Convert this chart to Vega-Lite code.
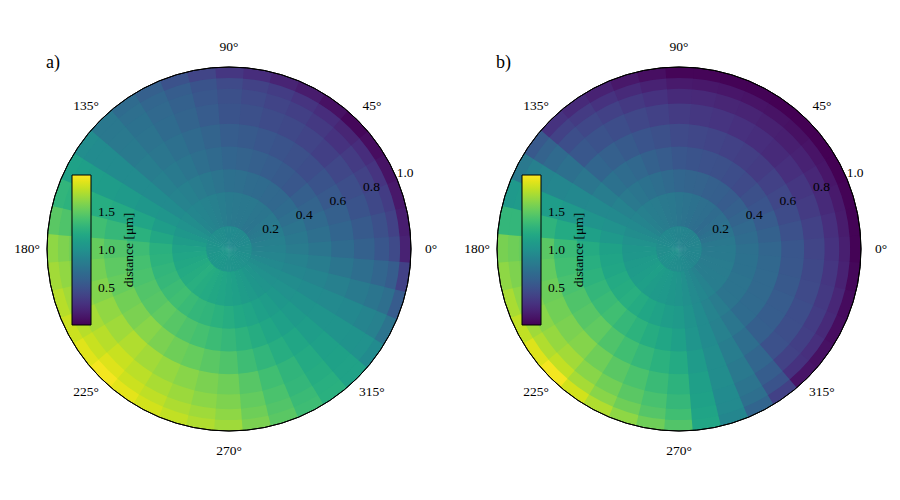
{
"$schema": "https://vega.github.io/schema/vega-lite/v6.json",
"padding": {"left": 9, "top": 9, "right": 0, "bottom": 0},
"background": "white",
"spacing": 10,
"bounds": "flush",
"config": {"view": {"stroke": null}, "font": "Liberation Serif"},
"datasets": {
"secs": [{"t":0,"t0":-4.7,"t1":4.7},{"t":9,"t0":4.3,"t1":13.7},{"t":18,"t0":13.3,"t1":22.7},{"t":27,"t0":22.3,"t1":31.7},{"t":36,"t0":31.3,"t1":40.7},{"t":45,"t0":40.3,"t1":49.7},{"t":54,"t0":49.3,"t1":58.7},{"t":63,"t0":58.3,"t1":67.7},{"t":72,"t0":67.3,"t1":76.7},{"t":81,"t0":76.3,"t1":85.7},{"t":90,"t0":85.3,"t1":94.7},{"t":99,"t0":94.3,"t1":103.7},{"t":108,"t0":103.3,"t1":112.7},{"t":117,"t0":112.3,"t1":121.7},{"t":126,"t0":121.3,"t1":130.7},{"t":135,"t0":130.3,"t1":139.7},{"t":144,"t0":139.3,"t1":148.7},{"t":153,"t0":148.3,"t1":157.7},{"t":162,"t0":157.3,"t1":166.7},{"t":171,"t0":166.3,"t1":175.7},{"t":180,"t0":175.3,"t1":184.7},{"t":189,"t0":184.3,"t1":193.7},{"t":198,"t0":193.3,"t1":202.7},{"t":207,"t0":202.3,"t1":211.7},{"t":216,"t0":211.3,"t1":220.7},{"t":225,"t0":220.3,"t1":229.7},{"t":234,"t0":229.3,"t1":238.7},{"t":243,"t0":238.3,"t1":247.7},{"t":252,"t0":247.3,"t1":256.7},{"t":261,"t0":256.3,"t1":265.7},{"t":270,"t0":265.3,"t1":274.7},{"t":279,"t0":274.3,"t1":283.7},{"t":288,"t0":283.3,"t1":292.7},{"t":297,"t0":292.3,"t1":301.7},{"t":306,"t0":301.3,"t1":310.7},{"t":315,"t0":310.3,"t1":319.7},{"t":324,"t0":319.3,"t1":328.7},{"t":333,"t0":328.3,"t1":337.7},{"t":342,"t0":337.3,"t1":346.7},{"t":351,"t0":346.3,"t1":355.7}],
"rings": [{"k":1,"r0":0,"r1":0.129},{"k":2,"r0":0.125,"r1":0.3165},{"k":3,"r0":0.3125,"r1":0.4415},{"k":4,"r0":0.4375,"r1":0.5665},{"k":5,"r0":0.5625,"r1":0.6915},{"k":6,"r0":0.6875,"r1":0.804},{"k":7,"r0":0.8,"r1":0.884},{"k":8,"r0":0.88,"r1":0.944},{"k":9,"r0":0.94,"r1":1.0}],
"angs": [{"a":0,"lab":"0°"},{"a":45,"lab":"45°"},{"a":90,"lab":"90°"},{"a":135,"lab":"135°"},{"a":180,"lab":"180°"},{"a":225,"lab":"225°"},{"a":270,"lab":"270°"},{"a":315,"lab":"315°"}],
"rads": [{"a":22.5,"rv":0.2,"lab":"0.2"},{"a":22.5,"rv":0.4,"lab":"0.4"},{"a":22.5,"rv":0.6,"lab":"0.6"},{"a":22.5,"rv":0.8,"lab":"0.8"},{"a":22.5,"rv":1.0,"lab":"1.0"}],
"ring1": [{"a0":0,"a1":360}],
"cells": [
{"p":"a","t":0,"k":1,"v":0.97},{"p":"a","t":0,"k":2,"v":0.88},{"p":"a","t":0,"k":3,"v":0.83},{"p":"a","t":0,"k":4,"v":0.78},{"p":"a","t":0,"k":5,"v":0.70},{"p":"a","t":0,"k":6,"v":0.62},{"p":"a","t":0,"k":7,"v":0.54},{"p":"a","t":0,"k":8,"v":0.45},{"p":"a","t":0,"k":9,"v":0.20},
{"p":"a","t":9,"k":1,"v":0.97},{"p":"a","t":9,"k":2,"v":0.86},{"p":"a","t":9,"k":3,"v":0.80},{"p":"a","t":9,"k":4,"v":0.73},{"p":"a","t":9,"k":5,"v":0.65},{"p":"a","t":9,"k":6,"v":0.57},{"p":"a","t":9,"k":7,"v":0.49},{"p":"a","t":9,"k":8,"v":0.40},{"p":"a","t":9,"k":9,"v":0.17},
{"p":"a","t":18,"k":1,"v":0.96},{"p":"a","t":18,"k":2,"v":0.84},{"p":"a","t":18,"k":3,"v":0.77},{"p":"a","t":18,"k":4,"v":0.69},{"p":"a","t":18,"k":5,"v":0.61},{"p":"a","t":18,"k":6,"v":0.52},{"p":"a","t":18,"k":7,"v":0.44},{"p":"a","t":18,"k":8,"v":0.36},{"p":"a","t":18,"k":9,"v":0.14},
{"p":"a","t":27,"k":1,"v":0.96},{"p":"a","t":27,"k":2,"v":0.82},{"p":"a","t":27,"k":3,"v":0.73},{"p":"a","t":27,"k":4,"v":0.64},{"p":"a","t":27,"k":5,"v":0.56},{"p":"a","t":27,"k":6,"v":0.48},{"p":"a","t":27,"k":7,"v":0.40},{"p":"a","t":27,"k":8,"v":0.31},{"p":"a","t":27,"k":9,"v":0.11},
{"p":"a","t":36,"k":1,"v":0.95},{"p":"a","t":36,"k":2,"v":0.80},{"p":"a","t":36,"k":3,"v":0.70},{"p":"a","t":36,"k":4,"v":0.60},{"p":"a","t":36,"k":5,"v":0.52},{"p":"a","t":36,"k":6,"v":0.43},{"p":"a","t":36,"k":7,"v":0.35},{"p":"a","t":36,"k":8,"v":0.27},{"p":"a","t":36,"k":9,"v":0.08},
{"p":"a","t":45,"k":1,"v":0.95},{"p":"a","t":45,"k":2,"v":0.78},{"p":"a","t":45,"k":3,"v":0.67},{"p":"a","t":45,"k":4,"v":0.55},{"p":"a","t":45,"k":5,"v":0.47},{"p":"a","t":45,"k":6,"v":0.38},{"p":"a","t":45,"k":7,"v":0.30},{"p":"a","t":45,"k":8,"v":0.22},{"p":"a","t":45,"k":9,"v":0.05},
{"p":"a","t":54,"k":1,"v":0.95},{"p":"a","t":54,"k":2,"v":0.79},{"p":"a","t":54,"k":3,"v":0.68},{"p":"a","t":54,"k":4,"v":0.57},{"p":"a","t":54,"k":5,"v":0.49},{"p":"a","t":54,"k":6,"v":0.41},{"p":"a","t":54,"k":7,"v":0.34},{"p":"a","t":54,"k":8,"v":0.27},{"p":"a","t":54,"k":9,"v":0.10},
{"p":"a","t":63,"k":1,"v":0.95},{"p":"a","t":63,"k":2,"v":0.80},{"p":"a","t":63,"k":3,"v":0.70},{"p":"a","t":63,"k":4,"v":0.59},{"p":"a","t":63,"k":5,"v":0.52},{"p":"a","t":63,"k":6,"v":0.44},{"p":"a","t":63,"k":7,"v":0.38},{"p":"a","t":63,"k":8,"v":0.31},{"p":"a","t":63,"k":9,"v":0.16},
{"p":"a","t":72,"k":1,"v":0.96},{"p":"a","t":72,"k":2,"v":0.80},{"p":"a","t":72,"k":3,"v":0.71},{"p":"a","t":72,"k":4,"v":0.61},{"p":"a","t":72,"k":5,"v":0.54},{"p":"a","t":72,"k":6,"v":0.46},{"p":"a","t":72,"k":7,"v":0.41},{"p":"a","t":72,"k":8,"v":0.36},{"p":"a","t":72,"k":9,"v":0.21},
{"p":"a","t":81,"k":1,"v":0.96},{"p":"a","t":81,"k":2,"v":0.81},{"p":"a","t":81,"k":3,"v":0.73},{"p":"a","t":81,"k":4,"v":0.63},{"p":"a","t":81,"k":5,"v":0.57},{"p":"a","t":81,"k":6,"v":0.49},{"p":"a","t":81,"k":7,"v":0.45},{"p":"a","t":81,"k":8,"v":0.40},{"p":"a","t":81,"k":9,"v":0.27},
{"p":"a","t":90,"k":1,"v":0.96},{"p":"a","t":90,"k":2,"v":0.82},{"p":"a","t":90,"k":3,"v":0.74},{"p":"a","t":90,"k":4,"v":0.65},{"p":"a","t":90,"k":5,"v":0.59},{"p":"a","t":90,"k":6,"v":0.52},{"p":"a","t":90,"k":7,"v":0.49},{"p":"a","t":90,"k":8,"v":0.45},{"p":"a","t":90,"k":9,"v":0.32},
{"p":"a","t":99,"k":1,"v":0.96},{"p":"a","t":99,"k":2,"v":0.84},{"p":"a","t":99,"k":3,"v":0.77},{"p":"a","t":99,"k":4,"v":0.69},{"p":"a","t":99,"k":5,"v":0.64},{"p":"a","t":99,"k":6,"v":0.58},{"p":"a","t":99,"k":7,"v":0.55},{"p":"a","t":99,"k":8,"v":0.52},{"p":"a","t":99,"k":9,"v":0.42},
{"p":"a","t":108,"k":1,"v":0.97},{"p":"a","t":108,"k":2,"v":0.86},{"p":"a","t":108,"k":3,"v":0.80},{"p":"a","t":108,"k":4,"v":0.73},{"p":"a","t":108,"k":5,"v":0.69},{"p":"a","t":108,"k":6,"v":0.64},{"p":"a","t":108,"k":7,"v":0.62},{"p":"a","t":108,"k":8,"v":0.59},{"p":"a","t":108,"k":9,"v":0.51},
{"p":"a","t":117,"k":1,"v":0.97},{"p":"a","t":117,"k":2,"v":0.88},{"p":"a","t":117,"k":3,"v":0.83},{"p":"a","t":117,"k":4,"v":0.78},{"p":"a","t":117,"k":5,"v":0.74},{"p":"a","t":117,"k":6,"v":0.70},{"p":"a","t":117,"k":7,"v":0.68},{"p":"a","t":117,"k":8,"v":0.66},{"p":"a","t":117,"k":9,"v":0.61},
{"p":"a","t":126,"k":1,"v":0.98},{"p":"a","t":126,"k":2,"v":0.90},{"p":"a","t":126,"k":3,"v":0.86},{"p":"a","t":126,"k":4,"v":0.82},{"p":"a","t":126,"k":5,"v":0.79},{"p":"a","t":126,"k":6,"v":0.76},{"p":"a","t":126,"k":7,"v":0.75},{"p":"a","t":126,"k":8,"v":0.73},{"p":"a","t":126,"k":9,"v":0.70},
{"p":"a","t":135,"k":1,"v":0.98},{"p":"a","t":135,"k":2,"v":0.92},{"p":"a","t":135,"k":3,"v":0.89},{"p":"a","t":135,"k":4,"v":0.86},{"p":"a","t":135,"k":5,"v":0.84},{"p":"a","t":135,"k":6,"v":0.82},{"p":"a","t":135,"k":7,"v":0.81},{"p":"a","t":135,"k":8,"v":0.80},{"p":"a","t":135,"k":9,"v":0.80},
{"p":"a","t":144,"k":1,"v":0.99},{"p":"a","t":144,"k":2,"v":0.97},{"p":"a","t":144,"k":3,"v":0.96},{"p":"a","t":144,"k":4,"v":0.96},{"p":"a","t":144,"k":5,"v":0.96},{"p":"a","t":144,"k":6,"v":0.96},{"p":"a","t":144,"k":7,"v":0.96},{"p":"a","t":144,"k":8,"v":0.96},{"p":"a","t":144,"k":9,"v":0.97},
{"p":"a","t":153,"k":1,"v":1.00},{"p":"a","t":153,"k":2,"v":1.01},{"p":"a","t":153,"k":3,"v":1.04},{"p":"a","t":153,"k":4,"v":1.06},{"p":"a","t":153,"k":5,"v":1.08},{"p":"a","t":153,"k":6,"v":1.10},{"p":"a","t":153,"k":7,"v":1.11},{"p":"a","t":153,"k":8,"v":1.12},{"p":"a","t":153,"k":9,"v":1.14},
{"p":"a","t":162,"k":1,"v":1.02},{"p":"a","t":162,"k":2,"v":1.06},{"p":"a","t":162,"k":3,"v":1.11},{"p":"a","t":162,"k":4,"v":1.17},{"p":"a","t":162,"k":5,"v":1.21},{"p":"a","t":162,"k":6,"v":1.24},{"p":"a","t":162,"k":7,"v":1.26},{"p":"a","t":162,"k":8,"v":1.28},{"p":"a","t":162,"k":9,"v":1.31},
{"p":"a","t":171,"k":1,"v":1.03},{"p":"a","t":171,"k":2,"v":1.10},{"p":"a","t":171,"k":3,"v":1.19},{"p":"a","t":171,"k":4,"v":1.27},{"p":"a","t":171,"k":5,"v":1.33},{"p":"a","t":171,"k":6,"v":1.38},{"p":"a","t":171,"k":7,"v":1.41},{"p":"a","t":171,"k":8,"v":1.44},{"p":"a","t":171,"k":9,"v":1.48},
{"p":"a","t":180,"k":1,"v":1.04},{"p":"a","t":180,"k":2,"v":1.15},{"p":"a","t":180,"k":3,"v":1.26},{"p":"a","t":180,"k":4,"v":1.37},{"p":"a","t":180,"k":5,"v":1.45},{"p":"a","t":180,"k":6,"v":1.52},{"p":"a","t":180,"k":7,"v":1.56},{"p":"a","t":180,"k":8,"v":1.60},{"p":"a","t":180,"k":9,"v":1.65},
{"p":"a","t":189,"k":1,"v":1.04},{"p":"a","t":189,"k":2,"v":1.17},{"p":"a","t":189,"k":3,"v":1.28},{"p":"a","t":189,"k":4,"v":1.40},{"p":"a","t":189,"k":5,"v":1.49},{"p":"a","t":189,"k":6,"v":1.57},{"p":"a","t":189,"k":7,"v":1.61},{"p":"a","t":189,"k":8,"v":1.66},{"p":"a","t":189,"k":9,"v":1.71},
{"p":"a","t":198,"k":1,"v":1.05},{"p":"a","t":198,"k":2,"v":1.19},{"p":"a","t":198,"k":3,"v":1.31},{"p":"a","t":198,"k":4,"v":1.42},{"p":"a","t":198,"k":5,"v":1.52},{"p":"a","t":198,"k":6,"v":1.61},{"p":"a","t":198,"k":7,"v":1.66},{"p":"a","t":198,"k":8,"v":1.71},{"p":"a","t":198,"k":9,"v":1.77},
{"p":"a","t":207,"k":1,"v":1.05},{"p":"a","t":207,"k":2,"v":1.21},{"p":"a","t":207,"k":3,"v":1.33},{"p":"a","t":207,"k":4,"v":1.45},{"p":"a","t":207,"k":5,"v":1.56},{"p":"a","t":207,"k":6,"v":1.66},{"p":"a","t":207,"k":7,"v":1.72},{"p":"a","t":207,"k":8,"v":1.77},{"p":"a","t":207,"k":9,"v":1.83},
{"p":"a","t":216,"k":1,"v":1.06},{"p":"a","t":216,"k":2,"v":1.23},{"p":"a","t":216,"k":3,"v":1.36},{"p":"a","t":216,"k":4,"v":1.47},{"p":"a","t":216,"k":5,"v":1.59},{"p":"a","t":216,"k":6,"v":1.70},{"p":"a","t":216,"k":7,"v":1.77},{"p":"a","t":216,"k":8,"v":1.82},{"p":"a","t":216,"k":9,"v":1.89},
{"p":"a","t":225,"k":1,"v":1.06},{"p":"a","t":225,"k":2,"v":1.25},{"p":"a","t":225,"k":3,"v":1.38},{"p":"a","t":225,"k":4,"v":1.50},{"p":"a","t":225,"k":5,"v":1.63},{"p":"a","t":225,"k":6,"v":1.75},{"p":"a","t":225,"k":7,"v":1.82},{"p":"a","t":225,"k":8,"v":1.88},{"p":"a","t":225,"k":9,"v":1.95},
{"p":"a","t":234,"k":1,"v":1.06},{"p":"a","t":234,"k":2,"v":1.23},{"p":"a","t":234,"k":3,"v":1.35},{"p":"a","t":234,"k":4,"v":1.47},{"p":"a","t":234,"k":5,"v":1.59},{"p":"a","t":234,"k":6,"v":1.71},{"p":"a","t":234,"k":7,"v":1.78},{"p":"a","t":234,"k":8,"v":1.83},{"p":"a","t":234,"k":9,"v":1.90},
{"p":"a","t":243,"k":1,"v":1.05},{"p":"a","t":243,"k":2,"v":1.21},{"p":"a","t":243,"k":3,"v":1.32},{"p":"a","t":243,"k":4,"v":1.43},{"p":"a","t":243,"k":5,"v":1.55},{"p":"a","t":243,"k":6,"v":1.67},{"p":"a","t":243,"k":7,"v":1.73},{"p":"a","t":243,"k":8,"v":1.79},{"p":"a","t":243,"k":9,"v":1.85},
{"p":"a","t":252,"k":1,"v":1.05},{"p":"a","t":252,"k":2,"v":1.19},{"p":"a","t":252,"k":3,"v":1.30},{"p":"a","t":252,"k":4,"v":1.40},{"p":"a","t":252,"k":5,"v":1.52},{"p":"a","t":252,"k":6,"v":1.63},{"p":"a","t":252,"k":7,"v":1.69},{"p":"a","t":252,"k":8,"v":1.74},{"p":"a","t":252,"k":9,"v":1.80},
{"p":"a","t":261,"k":1,"v":1.04},{"p":"a","t":261,"k":2,"v":1.17},{"p":"a","t":261,"k":3,"v":1.27},{"p":"a","t":261,"k":4,"v":1.36},{"p":"a","t":261,"k":5,"v":1.48},{"p":"a","t":261,"k":6,"v":1.59},{"p":"a","t":261,"k":7,"v":1.64},{"p":"a","t":261,"k":8,"v":1.70},{"p":"a","t":261,"k":9,"v":1.75},
{"p":"a","t":270,"k":1,"v":1.04},{"p":"a","t":270,"k":2,"v":1.15},{"p":"a","t":270,"k":3,"v":1.24},{"p":"a","t":270,"k":4,"v":1.33},{"p":"a","t":270,"k":5,"v":1.44},{"p":"a","t":270,"k":6,"v":1.55},{"p":"a","t":270,"k":7,"v":1.60},{"p":"a","t":270,"k":8,"v":1.65},{"p":"a","t":270,"k":9,"v":1.70},
{"p":"a","t":279,"k":1,"v":1.03},{"p":"a","t":279,"k":2,"v":1.13},{"p":"a","t":279,"k":3,"v":1.20},{"p":"a","t":279,"k":4,"v":1.28},{"p":"a","t":279,"k":5,"v":1.37},{"p":"a","t":279,"k":6,"v":1.47},{"p":"a","t":279,"k":7,"v":1.51},{"p":"a","t":279,"k":8,"v":1.55},{"p":"a","t":279,"k":9,"v":1.59},
{"p":"a","t":288,"k":1,"v":1.03},{"p":"a","t":288,"k":2,"v":1.10},{"p":"a","t":288,"k":3,"v":1.17},{"p":"a","t":288,"k":4,"v":1.23},{"p":"a","t":288,"k":5,"v":1.31},{"p":"a","t":288,"k":6,"v":1.38},{"p":"a","t":288,"k":7,"v":1.42},{"p":"a","t":288,"k":8,"v":1.45},{"p":"a","t":288,"k":9,"v":1.48},
{"p":"a","t":297,"k":1,"v":1.02},{"p":"a","t":297,"k":2,"v":1.08},{"p":"a","t":297,"k":3,"v":1.13},{"p":"a","t":297,"k":4,"v":1.18},{"p":"a","t":297,"k":5,"v":1.24},{"p":"a","t":297,"k":6,"v":1.30},{"p":"a","t":297,"k":7,"v":1.32},{"p":"a","t":297,"k":8,"v":1.35},{"p":"a","t":297,"k":9,"v":1.37},
{"p":"a","t":306,"k":1,"v":1.02},{"p":"a","t":306,"k":2,"v":1.05},{"p":"a","t":306,"k":3,"v":1.10},{"p":"a","t":306,"k":4,"v":1.13},{"p":"a","t":306,"k":5,"v":1.18},{"p":"a","t":306,"k":6,"v":1.21},{"p":"a","t":306,"k":7,"v":1.23},{"p":"a","t":306,"k":8,"v":1.25},{"p":"a","t":306,"k":9,"v":1.26},
{"p":"a","t":315,"k":1,"v":1.01},{"p":"a","t":315,"k":2,"v":1.03},{"p":"a","t":315,"k":3,"v":1.06},{"p":"a","t":315,"k":4,"v":1.08},{"p":"a","t":315,"k":5,"v":1.11},{"p":"a","t":315,"k":6,"v":1.13},{"p":"a","t":315,"k":7,"v":1.14},{"p":"a","t":315,"k":8,"v":1.15},{"p":"a","t":315,"k":9,"v":1.15},
{"p":"a","t":324,"k":1,"v":1.00},{"p":"a","t":324,"k":2,"v":1.00},{"p":"a","t":324,"k":3,"v":1.01},{"p":"a","t":324,"k":4,"v":1.02},{"p":"a","t":324,"k":5,"v":1.03},{"p":"a","t":324,"k":6,"v":1.03},{"p":"a","t":324,"k":7,"v":1.02},{"p":"a","t":324,"k":8,"v":1.01},{"p":"a","t":324,"k":9,"v":0.96},
{"p":"a","t":333,"k":1,"v":0.99},{"p":"a","t":333,"k":2,"v":0.97},{"p":"a","t":333,"k":3,"v":0.97},{"p":"a","t":333,"k":4,"v":0.96},{"p":"a","t":333,"k":5,"v":0.95},{"p":"a","t":333,"k":6,"v":0.93},{"p":"a","t":333,"k":7,"v":0.90},{"p":"a","t":333,"k":8,"v":0.87},{"p":"a","t":333,"k":9,"v":0.77},
{"p":"a","t":342,"k":1,"v":0.99},{"p":"a","t":342,"k":2,"v":0.94},{"p":"a","t":342,"k":3,"v":0.92},{"p":"a","t":342,"k":4,"v":0.90},{"p":"a","t":342,"k":5,"v":0.86},{"p":"a","t":342,"k":6,"v":0.82},{"p":"a","t":342,"k":7,"v":0.78},{"p":"a","t":342,"k":8,"v":0.73},{"p":"a","t":342,"k":9,"v":0.58},
{"p":"a","t":351,"k":1,"v":0.98},{"p":"a","t":351,"k":2,"v":0.91},{"p":"a","t":351,"k":3,"v":0.88},{"p":"a","t":351,"k":4,"v":0.84},{"p":"a","t":351,"k":5,"v":0.78},{"p":"a","t":351,"k":6,"v":0.72},{"p":"a","t":351,"k":7,"v":0.66},{"p":"a","t":351,"k":8,"v":0.59},{"p":"a","t":351,"k":9,"v":0.39},
{"p":"b","t":0,"k":1,"v":0.92},{"p":"b","t":0,"k":2,"v":0.82},{"p":"b","t":0,"k":3,"v":0.74},{"p":"b","t":0,"k":4,"v":0.66},{"p":"b","t":0,"k":5,"v":0.54},{"p":"b","t":0,"k":6,"v":0.42},{"p":"b","t":0,"k":7,"v":0.30},{"p":"b","t":0,"k":8,"v":0.18},{"p":"b","t":0,"k":9,"v":0.03},
{"p":"b","t":9,"k":1,"v":0.91},{"p":"b","t":9,"k":2,"v":0.80},{"p":"b","t":9,"k":3,"v":0.71},{"p":"b","t":9,"k":4,"v":0.62},{"p":"b","t":9,"k":5,"v":0.50},{"p":"b","t":9,"k":6,"v":0.39},{"p":"b","t":9,"k":7,"v":0.28},{"p":"b","t":9,"k":8,"v":0.16},{"p":"b","t":9,"k":9,"v":0.03},
{"p":"b","t":18,"k":1,"v":0.91},{"p":"b","t":18,"k":2,"v":0.77},{"p":"b","t":18,"k":3,"v":0.68},{"p":"b","t":18,"k":4,"v":0.58},{"p":"b","t":18,"k":5,"v":0.46},{"p":"b","t":18,"k":6,"v":0.35},{"p":"b","t":18,"k":7,"v":0.25},{"p":"b","t":18,"k":8,"v":0.15},{"p":"b","t":18,"k":9,"v":0.03},
{"p":"b","t":27,"k":1,"v":0.90},{"p":"b","t":27,"k":2,"v":0.75},{"p":"b","t":27,"k":3,"v":0.64},{"p":"b","t":27,"k":4,"v":0.53},{"p":"b","t":27,"k":5,"v":0.43},{"p":"b","t":27,"k":6,"v":0.32},{"p":"b","t":27,"k":7,"v":0.23},{"p":"b","t":27,"k":8,"v":0.13},{"p":"b","t":27,"k":9,"v":0.02},
{"p":"b","t":36,"k":1,"v":0.90},{"p":"b","t":36,"k":2,"v":0.72},{"p":"b","t":36,"k":3,"v":0.61},{"p":"b","t":36,"k":4,"v":0.49},{"p":"b","t":36,"k":5,"v":0.39},{"p":"b","t":36,"k":6,"v":0.28},{"p":"b","t":36,"k":7,"v":0.20},{"p":"b","t":36,"k":8,"v":0.12},{"p":"b","t":36,"k":9,"v":0.02},
{"p":"b","t":45,"k":1,"v":0.89},{"p":"b","t":45,"k":2,"v":0.70},{"p":"b","t":45,"k":3,"v":0.58},{"p":"b","t":45,"k":4,"v":0.45},{"p":"b","t":45,"k":5,"v":0.35},{"p":"b","t":45,"k":6,"v":0.25},{"p":"b","t":45,"k":7,"v":0.18},{"p":"b","t":45,"k":8,"v":0.10},{"p":"b","t":45,"k":9,"v":0.02},
{"p":"b","t":54,"k":1,"v":0.89},{"p":"b","t":54,"k":2,"v":0.72},{"p":"b","t":54,"k":3,"v":0.60},{"p":"b","t":54,"k":4,"v":0.47},{"p":"b","t":54,"k":5,"v":0.37},{"p":"b","t":54,"k":6,"v":0.27},{"p":"b","t":54,"k":7,"v":0.19},{"p":"b","t":54,"k":8,"v":0.11},{"p":"b","t":54,"k":9,"v":0.02},
{"p":"b","t":63,"k":1,"v":0.90},{"p":"b","t":63,"k":2,"v":0.73},{"p":"b","t":63,"k":3,"v":0.61},{"p":"b","t":63,"k":4,"v":0.49},{"p":"b","t":63,"k":5,"v":0.39},{"p":"b","t":63,"k":6,"v":0.29},{"p":"b","t":63,"k":7,"v":0.21},{"p":"b","t":63,"k":8,"v":0.12},{"p":"b","t":63,"k":9,"v":0.03},
{"p":"b","t":72,"k":1,"v":0.90},{"p":"b","t":72,"k":2,"v":0.75},{"p":"b","t":72,"k":3,"v":0.63},{"p":"b","t":72,"k":4,"v":0.50},{"p":"b","t":72,"k":5,"v":0.41},{"p":"b","t":72,"k":6,"v":0.31},{"p":"b","t":72,"k":7,"v":0.22},{"p":"b","t":72,"k":8,"v":0.13},{"p":"b","t":72,"k":9,"v":0.03},
{"p":"b","t":81,"k":1,"v":0.91},{"p":"b","t":81,"k":2,"v":0.76},{"p":"b","t":81,"k":3,"v":0.64},{"p":"b","t":81,"k":4,"v":0.52},{"p":"b","t":81,"k":5,"v":0.43},{"p":"b","t":81,"k":6,"v":0.33},{"p":"b","t":81,"k":7,"v":0.24},{"p":"b","t":81,"k":8,"v":0.14},{"p":"b","t":81,"k":9,"v":0.04},
{"p":"b","t":90,"k":1,"v":0.91},{"p":"b","t":90,"k":2,"v":0.78},{"p":"b","t":90,"k":3,"v":0.66},{"p":"b","t":90,"k":4,"v":0.54},{"p":"b","t":90,"k":5,"v":0.45},{"p":"b","t":90,"k":6,"v":0.35},{"p":"b","t":90,"k":7,"v":0.25},{"p":"b","t":90,"k":8,"v":0.15},{"p":"b","t":90,"k":9,"v":0.04},
{"p":"b","t":99,"k":1,"v":0.91},{"p":"b","t":99,"k":2,"v":0.80},{"p":"b","t":99,"k":3,"v":0.69},{"p":"b","t":99,"k":4,"v":0.58},{"p":"b","t":99,"k":5,"v":0.49},{"p":"b","t":99,"k":6,"v":0.39},{"p":"b","t":99,"k":7,"v":0.30},{"p":"b","t":99,"k":8,"v":0.20},{"p":"b","t":99,"k":9,"v":0.09},
{"p":"b","t":108,"k":1,"v":0.92},{"p":"b","t":108,"k":2,"v":0.81},{"p":"b","t":108,"k":3,"v":0.72},{"p":"b","t":108,"k":4,"v":0.62},{"p":"b","t":108,"k":5,"v":0.53},{"p":"b","t":108,"k":6,"v":0.43},{"p":"b","t":108,"k":7,"v":0.34},{"p":"b","t":108,"k":8,"v":0.25},{"p":"b","t":108,"k":9,"v":0.14},
{"p":"b","t":117,"k":1,"v":0.92},{"p":"b","t":117,"k":2,"v":0.83},{"p":"b","t":117,"k":3,"v":0.75},{"p":"b","t":117,"k":4,"v":0.67},{"p":"b","t":117,"k":5,"v":0.57},{"p":"b","t":117,"k":6,"v":0.47},{"p":"b","t":117,"k":7,"v":0.39},{"p":"b","t":117,"k":8,"v":0.30},{"p":"b","t":117,"k":9,"v":0.20},
{"p":"b","t":126,"k":1,"v":0.93},{"p":"b","t":126,"k":2,"v":0.84},{"p":"b","t":126,"k":3,"v":0.78},{"p":"b","t":126,"k":4,"v":0.71},{"p":"b","t":126,"k":5,"v":0.61},{"p":"b","t":126,"k":6,"v":0.51},{"p":"b","t":126,"k":7,"v":0.43},{"p":"b","t":126,"k":8,"v":0.35},{"p":"b","t":126,"k":9,"v":0.25},
{"p":"b","t":135,"k":1,"v":0.93},{"p":"b","t":135,"k":2,"v":0.86},{"p":"b","t":135,"k":3,"v":0.81},{"p":"b","t":135,"k":4,"v":0.75},{"p":"b","t":135,"k":5,"v":0.65},{"p":"b","t":135,"k":6,"v":0.55},{"p":"b","t":135,"k":7,"v":0.48},{"p":"b","t":135,"k":8,"v":0.40},{"p":"b","t":135,"k":9,"v":0.30},
{"p":"b","t":144,"k":1,"v":0.94},{"p":"b","t":144,"k":2,"v":0.90},{"p":"b","t":144,"k":3,"v":0.88},{"p":"b","t":144,"k":4,"v":0.84},{"p":"b","t":144,"k":5,"v":0.79},{"p":"b","t":144,"k":6,"v":0.74},{"p":"b","t":144,"k":7,"v":0.69},{"p":"b","t":144,"k":8,"v":0.63},{"p":"b","t":144,"k":9,"v":0.56},
{"p":"b","t":153,"k":1,"v":0.95},{"p":"b","t":153,"k":2,"v":0.94},{"p":"b","t":153,"k":3,"v":0.94},{"p":"b","t":153,"k":4,"v":0.94},{"p":"b","t":153,"k":5,"v":0.93},{"p":"b","t":153,"k":6,"v":0.92},{"p":"b","t":153,"k":7,"v":0.90},{"p":"b","t":153,"k":8,"v":0.86},{"p":"b","t":153,"k":9,"v":0.81},
{"p":"b","t":162,"k":1,"v":0.96},{"p":"b","t":162,"k":2,"v":0.97},{"p":"b","t":162,"k":3,"v":1.01},{"p":"b","t":162,"k":4,"v":1.03},{"p":"b","t":162,"k":5,"v":1.07},{"p":"b","t":162,"k":6,"v":1.11},{"p":"b","t":162,"k":7,"v":1.10},{"p":"b","t":162,"k":8,"v":1.09},{"p":"b","t":162,"k":9,"v":1.07},
{"p":"b","t":171,"k":1,"v":0.97},{"p":"b","t":171,"k":2,"v":1.01},{"p":"b","t":171,"k":3,"v":1.07},{"p":"b","t":171,"k":4,"v":1.13},{"p":"b","t":171,"k":5,"v":1.21},{"p":"b","t":171,"k":6,"v":1.29},{"p":"b","t":171,"k":7,"v":1.31},{"p":"b","t":171,"k":8,"v":1.32},{"p":"b","t":171,"k":9,"v":1.32},
{"p":"b","t":180,"k":1,"v":0.98},{"p":"b","t":180,"k":2,"v":1.05},{"p":"b","t":180,"k":3,"v":1.14},{"p":"b","t":180,"k":4,"v":1.22},{"p":"b","t":180,"k":5,"v":1.35},{"p":"b","t":180,"k":6,"v":1.48},{"p":"b","t":180,"k":7,"v":1.52},{"p":"b","t":180,"k":8,"v":1.55},{"p":"b","t":180,"k":9,"v":1.58},
{"p":"b","t":189,"k":1,"v":0.98},{"p":"b","t":189,"k":2,"v":1.06},{"p":"b","t":189,"k":3,"v":1.16},{"p":"b","t":189,"k":4,"v":1.25},{"p":"b","t":189,"k":5,"v":1.38},{"p":"b","t":189,"k":6,"v":1.51},{"p":"b","t":189,"k":7,"v":1.56},{"p":"b","t":189,"k":8,"v":1.60},{"p":"b","t":189,"k":9,"v":1.65},
{"p":"b","t":198,"k":1,"v":0.98},{"p":"b","t":198,"k":2,"v":1.08},{"p":"b","t":198,"k":3,"v":1.18},{"p":"b","t":198,"k":4,"v":1.28},{"p":"b","t":198,"k":5,"v":1.41},{"p":"b","t":198,"k":6,"v":1.54},{"p":"b","t":198,"k":7,"v":1.60},{"p":"b","t":198,"k":8,"v":1.65},{"p":"b","t":198,"k":9,"v":1.73},
{"p":"b","t":207,"k":1,"v":0.99},{"p":"b","t":207,"k":2,"v":1.09},{"p":"b","t":207,"k":3,"v":1.21},{"p":"b","t":207,"k":4,"v":1.32},{"p":"b","t":207,"k":5,"v":1.44},{"p":"b","t":207,"k":6,"v":1.56},{"p":"b","t":207,"k":7,"v":1.63},{"p":"b","t":207,"k":8,"v":1.70},{"p":"b","t":207,"k":9,"v":1.80},
{"p":"b","t":216,"k":1,"v":0.99},{"p":"b","t":216,"k":2,"v":1.11},{"p":"b","t":216,"k":3,"v":1.23},{"p":"b","t":216,"k":4,"v":1.35},{"p":"b","t":216,"k":5,"v":1.47},{"p":"b","t":216,"k":6,"v":1.59},{"p":"b","t":216,"k":7,"v":1.67},{"p":"b","t":216,"k":8,"v":1.75},{"p":"b","t":216,"k":9,"v":1.88},
{"p":"b","t":225,"k":1,"v":0.99},{"p":"b","t":225,"k":2,"v":1.12},{"p":"b","t":225,"k":3,"v":1.25},{"p":"b","t":225,"k":4,"v":1.38},{"p":"b","t":225,"k":5,"v":1.50},{"p":"b","t":225,"k":6,"v":1.62},{"p":"b","t":225,"k":7,"v":1.71},{"p":"b","t":225,"k":8,"v":1.80},{"p":"b","t":225,"k":9,"v":1.95},
{"p":"b","t":234,"k":1,"v":0.99},{"p":"b","t":234,"k":2,"v":1.10},{"p":"b","t":234,"k":3,"v":1.22},{"p":"b","t":234,"k":4,"v":1.33},{"p":"b","t":234,"k":5,"v":1.44},{"p":"b","t":234,"k":6,"v":1.55},{"p":"b","t":234,"k":7,"v":1.63},{"p":"b","t":234,"k":8,"v":1.72},{"p":"b","t":234,"k":9,"v":1.85},
{"p":"b","t":243,"k":1,"v":0.98},{"p":"b","t":243,"k":2,"v":1.08},{"p":"b","t":243,"k":3,"v":1.18},{"p":"b","t":243,"k":4,"v":1.28},{"p":"b","t":243,"k":5,"v":1.38},{"p":"b","t":243,"k":6,"v":1.48},{"p":"b","t":243,"k":7,"v":1.56},{"p":"b","t":243,"k":8,"v":1.63},{"p":"b","t":243,"k":9,"v":1.75},
{"p":"b","t":252,"k":1,"v":0.98},{"p":"b","t":252,"k":2,"v":1.07},{"p":"b","t":252,"k":3,"v":1.15},{"p":"b","t":252,"k":4,"v":1.23},{"p":"b","t":252,"k":5,"v":1.33},{"p":"b","t":252,"k":6,"v":1.42},{"p":"b","t":252,"k":7,"v":1.48},{"p":"b","t":252,"k":8,"v":1.55},{"p":"b","t":252,"k":9,"v":1.65},
{"p":"b","t":261,"k":1,"v":0.97},{"p":"b","t":261,"k":2,"v":1.05},{"p":"b","t":261,"k":3,"v":1.11},{"p":"b","t":261,"k":4,"v":1.18},{"p":"b","t":261,"k":5,"v":1.27},{"p":"b","t":261,"k":6,"v":1.35},{"p":"b","t":261,"k":7,"v":1.41},{"p":"b","t":261,"k":8,"v":1.46},{"p":"b","t":261,"k":9,"v":1.55},
{"p":"b","t":270,"k":1,"v":0.97},{"p":"b","t":270,"k":2,"v":1.03},{"p":"b","t":270,"k":3,"v":1.08},{"p":"b","t":270,"k":4,"v":1.13},{"p":"b","t":270,"k":5,"v":1.21},{"p":"b","t":270,"k":6,"v":1.28},{"p":"b","t":270,"k":7,"v":1.33},{"p":"b","t":270,"k":8,"v":1.38},{"p":"b","t":270,"k":9,"v":1.45},
{"p":"b","t":279,"k":1,"v":0.96},{"p":"b","t":279,"k":2,"v":0.99},{"p":"b","t":279,"k":3,"v":1.02},{"p":"b","t":279,"k":4,"v":1.04},{"p":"b","t":279,"k":5,"v":1.09},{"p":"b","t":279,"k":6,"v":1.12},{"p":"b","t":279,"k":7,"v":1.14},{"p":"b","t":279,"k":8,"v":1.16},{"p":"b","t":279,"k":9,"v":1.18},
{"p":"b","t":288,"k":1,"v":0.95},{"p":"b","t":288,"k":2,"v":0.95},{"p":"b","t":288,"k":3,"v":0.96},{"p":"b","t":288,"k":4,"v":0.96},{"p":"b","t":288,"k":5,"v":0.97},{"p":"b","t":288,"k":6,"v":0.97},{"p":"b","t":288,"k":7,"v":0.96},{"p":"b","t":288,"k":8,"v":0.95},{"p":"b","t":288,"k":9,"v":0.92},
{"p":"b","t":297,"k":1,"v":0.94},{"p":"b","t":297,"k":2,"v":0.92},{"p":"b","t":297,"k":3,"v":0.89},{"p":"b","t":297,"k":4,"v":0.87},{"p":"b","t":297,"k":5,"v":0.84},{"p":"b","t":297,"k":6,"v":0.81},{"p":"b","t":297,"k":7,"v":0.77},{"p":"b","t":297,"k":8,"v":0.73},{"p":"b","t":297,"k":9,"v":0.65},
{"p":"b","t":306,"k":1,"v":0.93},{"p":"b","t":306,"k":2,"v":0.88},{"p":"b","t":306,"k":3,"v":0.83},{"p":"b","t":306,"k":4,"v":0.79},{"p":"b","t":306,"k":5,"v":0.72},{"p":"b","t":306,"k":6,"v":0.66},{"p":"b","t":306,"k":7,"v":0.59},{"p":"b","t":306,"k":8,"v":0.52},{"p":"b","t":306,"k":9,"v":0.39},
{"p":"b","t":315,"k":1,"v":0.92},{"p":"b","t":315,"k":2,"v":0.84},{"p":"b","t":315,"k":3,"v":0.77},{"p":"b","t":315,"k":4,"v":0.70},{"p":"b","t":315,"k":5,"v":0.60},{"p":"b","t":315,"k":6,"v":0.50},{"p":"b","t":315,"k":7,"v":0.40},{"p":"b","t":315,"k":8,"v":0.30},{"p":"b","t":315,"k":9,"v":0.12},
{"p":"b","t":324,"k":1,"v":0.92},{"p":"b","t":324,"k":2,"v":0.84},{"p":"b","t":324,"k":3,"v":0.76},{"p":"b","t":324,"k":4,"v":0.69},{"p":"b","t":324,"k":5,"v":0.59},{"p":"b","t":324,"k":6,"v":0.48},{"p":"b","t":324,"k":7,"v":0.38},{"p":"b","t":324,"k":8,"v":0.28},{"p":"b","t":324,"k":9,"v":0.10},
{"p":"b","t":333,"k":1,"v":0.92},{"p":"b","t":333,"k":2,"v":0.83},{"p":"b","t":333,"k":3,"v":0.76},{"p":"b","t":333,"k":4,"v":0.68},{"p":"b","t":333,"k":5,"v":0.58},{"p":"b","t":333,"k":6,"v":0.47},{"p":"b","t":333,"k":7,"v":0.36},{"p":"b","t":333,"k":8,"v":0.25},{"p":"b","t":333,"k":9,"v":0.08},
{"p":"b","t":342,"k":1,"v":0.92},{"p":"b","t":342,"k":2,"v":0.83},{"p":"b","t":342,"k":3,"v":0.75},{"p":"b","t":342,"k":4,"v":0.68},{"p":"b","t":342,"k":5,"v":0.56},{"p":"b","t":342,"k":6,"v":0.45},{"p":"b","t":342,"k":7,"v":0.34},{"p":"b","t":342,"k":8,"v":0.23},{"p":"b","t":342,"k":9,"v":0.07},
{"p":"b","t":351,"k":1,"v":0.92},{"p":"b","t":351,"k":2,"v":0.82},{"p":"b","t":351,"k":3,"v":0.75},{"p":"b","t":351,"k":4,"v":0.67},{"p":"b","t":351,"k":5,"v":0.55},{"p":"b","t":351,"k":6,"v":0.44},{"p":"b","t":351,"k":7,"v":0.32},{"p":"b","t":351,"k":8,"v":0.20},{"p":"b","t":351,"k":9,"v":0.05}
]
},
"hconcat": [
{
"width": 440, "height": 480,
"title": {"text": "a)", "anchor": "start", "orient": "top", "dx": 37, "offset": -77, "baseline": "alphabetic", "fontSize": 18, "font": "Liberation Serif", "fontWeight": "normal", "color": "black"},
"layer": [
{"data": {"name": "cells"},
"transform": [{"filter": "datum.p === 'a'"}, {"lookup": "t", "from": {"data": {"name": "secs"}, "key": "t", "fields": ["t0", "t1"]}}, {"lookup": "k", "from": {"data": {"name": "rings"}, "key": "k", "fields": ["r0", "r1"]}}],
"mark": {"type": "arc"},
"encoding": {
"theta": {"field": "t0", "type": "quantitative", "stack": null, "scale": {"domain": [0, 360], "range": [1.5707963267948966, -4.71238898038469]}},
"theta2": {"field": "t1"},
"radius": {"field": "r0", "type": "quantitative", "scale": {"type": "linear", "domain": [0, 1], "range": [0, 182], "zero": true}},
"radius2": {"field": "r1"},
"color": {"field": "v", "type": "quantitative", "scale": {"scheme": "viridis", "domain": [0.02, 1.98]},
"legend": {"type": "gradient", "orient": "none", "legendX": 63, "legendY": 166, "direction": "vertical", "gradientLength": 150, "gradientThickness": 19, "title": "distance [μm]", "titleOrient": "right", "titleAnchor": "middle", "titleFontSize": 13.5, "titleFont": "Liberation Serif", "titleFontWeight": "normal", "titleColor": "black", "titlePadding": 21, "labelFontSize": 13.5, "labelFont": "Liberation Serif", "labelColor": "black", "labelOffset": 7, "values": [0.5, 1, 1.5], "format": ".1f", "gradientStrokeColor": "black", "gradientStrokeWidth": 1, "padding": 0, "labelOverlap": false, "encode": {"title": {"update": {"angle": {"value": 270}}}}}}
}},
{"data": {"name": "cells"},
"transform": [{"filter": "datum.p === 'a'"}, {"lookup": "t", "from": {"data": {"name": "secs"}, "key": "t", "fields": ["t0", "t1"]}}, {"lookup": "k", "from": {"data": {"name": "rings"}, "key": "k", "fields": ["r0", "r1"]}}],
"mark": {"type": "arc"},
"encoding": {
"theta": {"field": "t0", "type": "quantitative", "stack": null, "scale": {"domain": [0, 360], "range": [1.5707963267948966, -4.71238898038469]}},
"theta2": {"field": "t1"},
"radius": {"field": "r0", "type": "quantitative", "scale": {"type": "linear", "domain": [0, 1], "range": [0, 182], "zero": true}},
"radius2": {"field": "r1"},
"color": {"field": "v", "type": "quantitative", "scale": {"scheme": "viridis", "domain": [0.02, 1.98]}}
}},
{"data": {"name": "ring1"},
"mark": {"type": "arc", "fillOpacity": 0, "stroke": "black", "strokeWidth": 1},
"encoding": {
"theta": {"field": "a0", "type": "quantitative", "stack": null, "scale": {"domain": [0, 360], "range": [1.5707963267948966, -4.71238898038469]}},
"theta2": {"field": "a1"},
"radius": {"datum": 1, "type": "quantitative", "scale": {"type": "linear", "domain": [0, 1], "range": [0, 182], "zero": true}},
"radius2": {"datum": 1}
}},
{"data": {"name": "angs"},
"mark": {"type": "text", "radiusOffset": 20, "fontSize": 13.5, "font": "Liberation Serif", "color": "black"},
"encoding": {
"theta": {"field": "a", "type": "quantitative", "stack": null, "scale": {"domain": [0, 360], "range": [1.5707963267948966, -4.71238898038469]}},
"radius": {"datum": 1, "type": "quantitative", "scale": {"type": "linear", "domain": [0, 1], "range": [0, 182], "zero": true}},
"text": {"field": "lab"}
}},
{"data": {"name": "rads"},
"mark": {"type": "text", "dx": 8, "dy": -6.5, "fontSize": 13.5, "font": "Liberation Serif", "color": "black"},
"encoding": {
"theta": {"field": "a", "type": "quantitative", "stack": null, "scale": {"domain": [0, 360], "range": [1.5707963267948966, -4.71238898038469]}},
"radius": {"field": "rv", "type": "quantitative", "scale": {"type": "linear", "domain": [0, 1], "range": [0, 182], "zero": true}},
"text": {"field": "lab"}
}}
]
},
{
"width": 440, "height": 480,
"title": {"text": "b)", "anchor": "start", "orient": "top", "dx": 37, "offset": -77, "baseline": "alphabetic", "fontSize": 18, "font": "Liberation Serif", "fontWeight": "normal", "color": "black"},
"layer": [
{"data": {"name": "cells"},
"transform": [{"filter": "datum.p === 'b'"}, {"lookup": "t", "from": {"data": {"name": "secs"}, "key": "t", "fields": ["t0", "t1"]}}, {"lookup": "k", "from": {"data": {"name": "rings"}, "key": "k", "fields": ["r0", "r1"]}}],
"mark": {"type": "arc"},
"encoding": {
"theta": {"field": "t0", "type": "quantitative", "stack": null, "scale": {"domain": [0, 360], "range": [1.5707963267948966, -4.71238898038469]}},
"theta2": {"field": "t1"},
"radius": {"field": "r0", "type": "quantitative", "scale": {"type": "linear", "domain": [0, 1], "range": [0, 182], "zero": true}},
"radius2": {"field": "r1"},
"color": {"field": "v", "type": "quantitative", "scale": {"scheme": "viridis", "domain": [0.02, 1.98]},
"legend": {"type": "gradient", "orient": "none", "legendX": 63, "legendY": 166, "direction": "vertical", "gradientLength": 150, "gradientThickness": 19, "title": "distance [μm]", "titleOrient": "right", "titleAnchor": "middle", "titleFontSize": 13.5, "titleFont": "Liberation Serif", "titleFontWeight": "normal", "titleColor": "black", "titlePadding": 21, "labelFontSize": 13.5, "labelFont": "Liberation Serif", "labelColor": "black", "labelOffset": 7, "values": [0.5, 1, 1.5], "format": ".1f", "gradientStrokeColor": "black", "gradientStrokeWidth": 1, "padding": 0, "labelOverlap": false, "encode": {"title": {"update": {"angle": {"value": 270}}}}}}
}},
{"data": {"name": "cells"},
"transform": [{"filter": "datum.p === 'b'"}, {"lookup": "t", "from": {"data": {"name": "secs"}, "key": "t", "fields": ["t0", "t1"]}}, {"lookup": "k", "from": {"data": {"name": "rings"}, "key": "k", "fields": ["r0", "r1"]}}],
"mark": {"type": "arc"},
"encoding": {
"theta": {"field": "t0", "type": "quantitative", "stack": null, "scale": {"domain": [0, 360], "range": [1.5707963267948966, -4.71238898038469]}},
"theta2": {"field": "t1"},
"radius": {"field": "r0", "type": "quantitative", "scale": {"type": "linear", "domain": [0, 1], "range": [0, 182], "zero": true}},
"radius2": {"field": "r1"},
"color": {"field": "v", "type": "quantitative", "scale": {"scheme": "viridis", "domain": [0.02, 1.98]}}
}},
{"data": {"name": "ring1"},
"mark": {"type": "arc", "fillOpacity": 0, "stroke": "black", "strokeWidth": 1},
"encoding": {
"theta": {"field": "a0", "type": "quantitative", "stack": null, "scale": {"domain": [0, 360], "range": [1.5707963267948966, -4.71238898038469]}},
"theta2": {"field": "a1"},
"radius": {"datum": 1, "type": "quantitative", "scale": {"type": "linear", "domain": [0, 1], "range": [0, 182], "zero": true}},
"radius2": {"datum": 1}
}},
{"data": {"name": "angs"},
"mark": {"type": "text", "radiusOffset": 20, "fontSize": 13.5, "font": "Liberation Serif", "color": "black"},
"encoding": {
"theta": {"field": "a", "type": "quantitative", "stack": null, "scale": {"domain": [0, 360], "range": [1.5707963267948966, -4.71238898038469]}},
"radius": {"datum": 1, "type": "quantitative", "scale": {"type": "linear", "domain": [0, 1], "range": [0, 182], "zero": true}},
"text": {"field": "lab"}
}},
{"data": {"name": "rads"},
"mark": {"type": "text", "dx": 8, "dy": -6.5, "fontSize": 13.5, "font": "Liberation Serif", "color": "black"},
"encoding": {
"theta": {"field": "a", "type": "quantitative", "stack": null, "scale": {"domain": [0, 360], "range": [1.5707963267948966, -4.71238898038469]}},
"radius": {"field": "rv", "type": "quantitative", "scale": {"type": "linear", "domain": [0, 1], "range": [0, 182], "zero": true}},
"text": {"field": "lab"}
}}
]
}
],
"resolve": {"scale": {"color": "independent"}, "legend": {"color": "independent"}}
}
